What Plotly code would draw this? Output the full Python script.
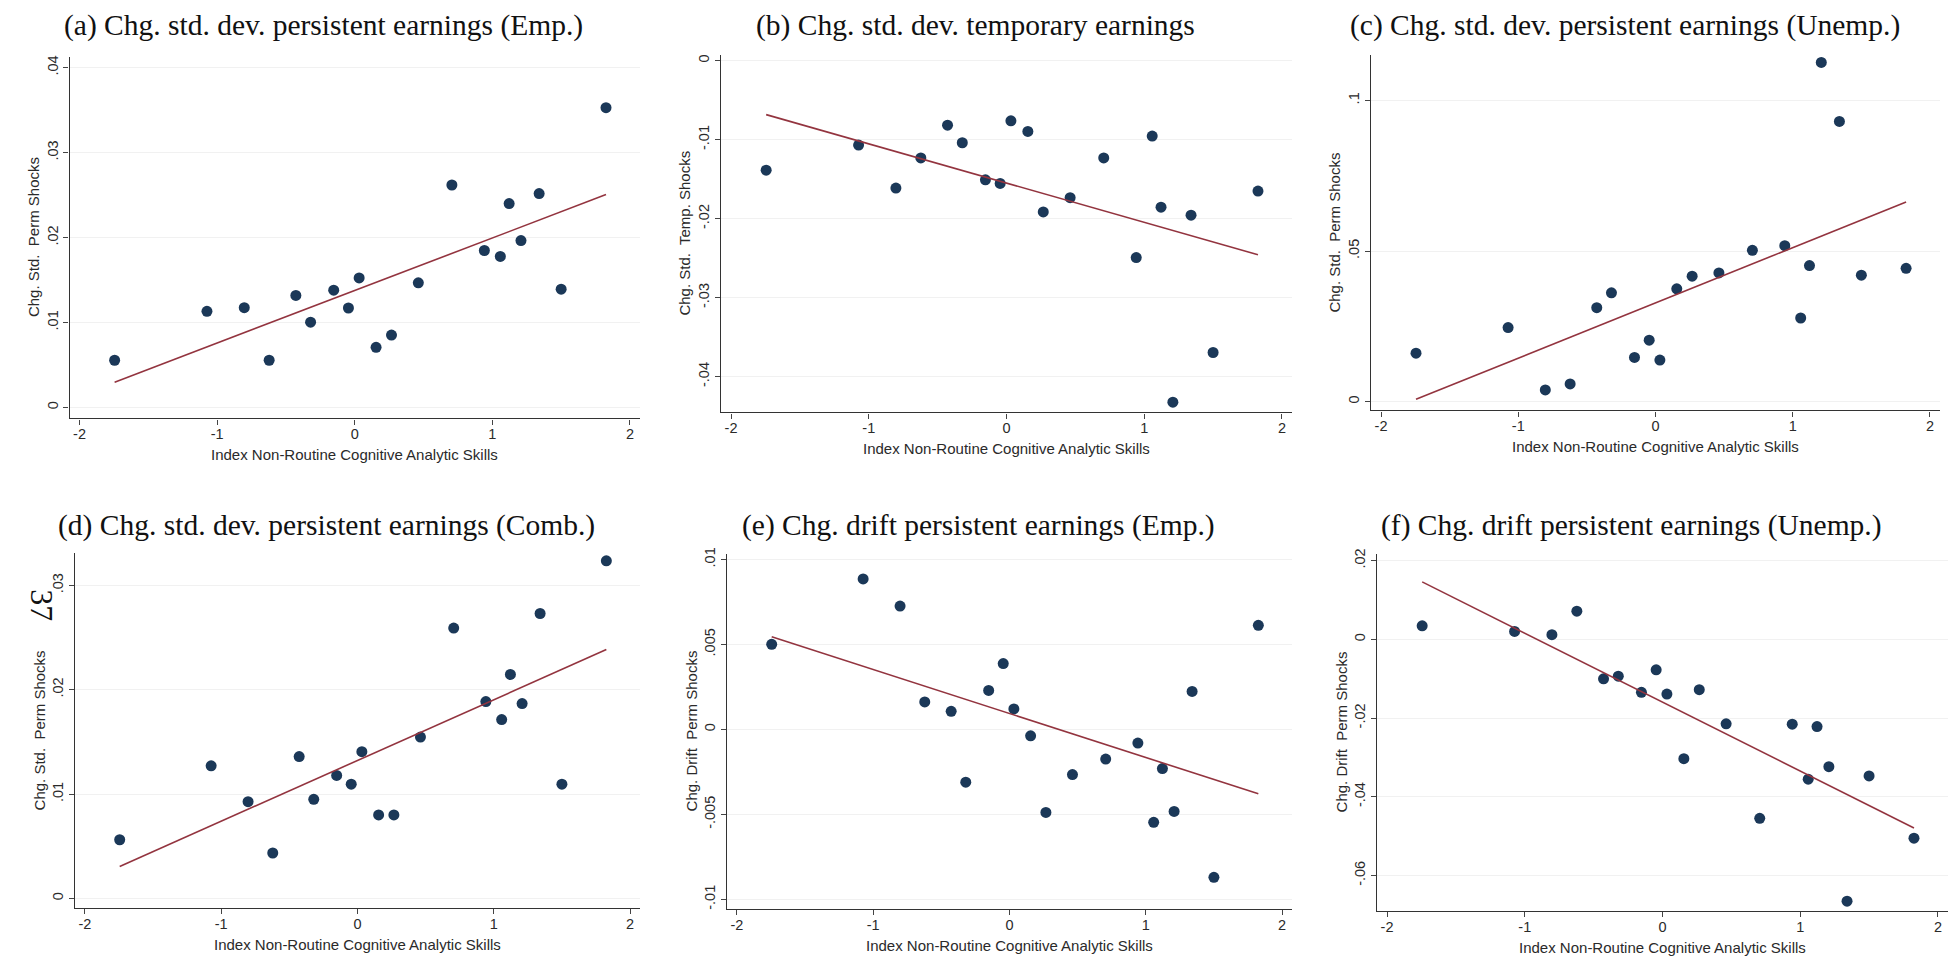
import numpy as np
import plotly.graph_objects as go

W, H = 1958, 957
OFF = 8                      # the page body margin of the browser
FW, FH = W - OFF, H - OFF

# ---------------- data ----------------
skill_index = [-1.745, -1.074, -0.803, -0.622, -0.428, -0.321, -0.153, -0.046, 0.032, 0.155,
               0.267, 0.462, 0.706, 0.942, 1.058, 1.122, 1.208, 1.340, 1.500, 1.826]

std_perm_emp = [0.00556, 0.01132, 0.01175, 0.00556, 0.01319, 0.01004, 0.01381, 0.01171, 0.01525, 0.00708,
                0.00852, 0.01467, 0.02619, 0.01848, 0.01778, 0.02401, 0.01965, 0.02518, 0.01393, 0.03529]

std_temp = [-0.01386, -0.01068, -0.01613, -0.01231, -0.00817, -0.01039, -0.01508, -0.01554, -0.00762, -0.00896,
            -0.01914, -0.01734, -0.01231, -0.02492, -0.00955, -0.01855, -0.04323, -0.01956, -0.03694, -0.01650]

std_perm_unemp = [0.01608, 0.02456, 0.00385, 0.00584, 0.03117, 0.03612, 0.01465, 0.02037, 0.01377, 0.03744,
                  0.04163, 0.04273, 0.05022, 0.05176, 0.02775, 0.04515, 0.11266, 0.09306, 0.04196, 0.04427]

std_perm_comb = [0.00562, 0.01270, 0.00927, 0.00435, 0.01359, 0.00949, 0.01178, 0.01095, 0.01406, 0.00800,
                 0.00800, 0.01546, 0.02590, 0.01886, 0.01714, 0.02146, 0.01867, 0.02730, 0.01095, 0.03235]

drift_perm_emp = [0.00501, 0.00886, 0.00726, 0.00162, 0.00107, -0.00310, 0.00230, 0.00388, 0.00121, -0.00037,
                  -0.00488, -0.00265, -0.00174, -0.00080, -0.00546, -0.00230, -0.00482, 0.00224, -0.00870, 0.00613]

drift_perm_unemp = [0.00345, 0.00202, 0.00118, 0.00716, -0.01002, -0.00935, -0.01347, -0.00775, -0.01389, -0.03032,
                    -0.01280, -0.02147, -0.04547, -0.02156, -0.03554, -0.02215, -0.03234, -0.06653, -0.03469, -0.05053]

x_ticks = [-2, -1, 0, 1, 2]
x_tick_labels = ["-2", "-1", "0", "1", "2"]

titles = ["(a) Chg. std. dev. persistent earnings (Emp.)",
          "(b) Chg. std. dev. temporary earnings",
          "(c) Chg. std. dev. persistent earnings (Unemp.)",
          "(d) Chg. std. dev. persistent earnings (Comb.)",
          "(e) Chg. drift persistent earnings (Emp.)",
          "(f) Chg. drift persistent earnings (Unemp.)"]
y_titles = ["Chg. Std.  Perm Shocks", "Chg. Std.  Temp. Shocks", "Chg. Std.  Perm Shocks",
            "Chg. Std.  Perm Shocks", "Chg. Drift  Perm Shocks", "Chg. Drift  Perm Shocks"]
x_title = "Index Non-Routine Cognitive Analytic Skills"

y_tick_vals = [[0, 0.01, 0.02, 0.03, 0.04],
               [0, -0.01, -0.02, -0.03, -0.04],
               [0, 0.05, 0.1],
               [0, 0.01, 0.02, 0.03],
               [-0.01, -0.005, 0, 0.005, 0.01],
               [-0.06, -0.04, -0.02, 0, 0.02]]
y_tick_labels = [["0", ".01", ".02", ".03", ".04"],
                 ["0", "-.01", "-.02", "-.03", "-.04"],
                 ["0", ".05", ".1"],
                 ["0", ".01", ".02", ".03"],
                 ["-.01", "-.005", "0", ".005", ".01"],
                 ["-.06", "-.04", "-.02", "0", ".02"]]
series = [std_perm_emp, std_temp, std_perm_unemp, std_perm_comb, drift_perm_emp, drift_perm_unemp]

# ---------------- layout (screen-pixel boxes of the plot regions) ----------------
boxes = [(69.5, 640, 51, 415), (721, 1292, 49, 409), (1371, 1940, 49, 407),
         (75, 640, 550, 908), (727, 1292, 551, 909), (1377, 1948, 551, 911)]
y_ranges = [(-0.00129, 0.04129), (-0.04453, 0.00075), (-0.00297, 0.1152),
            (-0.00095, 0.03314), (-0.01058, 0.01035), (-0.0691, 0.0218)]
x_range = (-2.073, 2.073)
title_y = [20, 20, 20, 523, 523, 523]


def px(x):
    return (x - OFF) / FW


def py(y):
    return 1 - (y - OFF) / FH


MARKER = "#1b3858"
LINE = "#93343f"
TXT = "#2a2a2a"
SANS = "Liberation Sans, Arial, sans-serif"
SERIF = "Liberation Serif, Times New Roman, serif"

fig = go.Figure()
annotations = []

for i in range(6):
    xl, xr, yt, yb = boxes[i]
    xa = "x" if i == 0 else f"x{i+1}"
    ya = "y" if i == 0 else f"y{i+1}"
    yvals = series[i]

    slope, intercept = np.polyfit(skill_index, yvals, 1)
    fx = [min(skill_index), max(skill_index)]
    fy = [slope * v + intercept for v in fx]

    fig.add_trace(go.Scatter(x=skill_index, y=yvals, mode="markers", xaxis=xa, yaxis=ya,
                             marker=dict(color=MARKER, size=11, line=dict(width=0)),
                             showlegend=False, hoverinfo="x+y"))
    fig.add_trace(go.Scatter(x=fx, y=fy, mode="lines", xaxis=xa, yaxis=ya,
                             line=dict(color=LINE, width=1.6), showlegend=False))

    xkey = "xaxis" if i == 0 else f"xaxis{i+1}"
    ykey = "yaxis" if i == 0 else f"yaxis{i+1}"
    fig.layout[xkey] = dict(domain=[px(xl), px(xr)], range=list(x_range), anchor=ya,
                            tickmode="array", tickvals=x_ticks, ticktext=x_tick_labels,
                            ticks="outside", ticklen=5, tickcolor="#444", tickwidth=1,
                            ticklabelstandoff=-3,
                            showline=True, linecolor="#333", linewidth=1.2,
                            showgrid=False, zeroline=False,
                            tickfont=dict(family=SANS, size=14.5, color=TXT))
    fig.layout[ykey] = dict(domain=[py(yb), py(yt)], range=list(y_ranges[i]), anchor=xa,
                            tickmode="array", tickvals=y_tick_vals[i], ticktext=y_tick_labels[i],
                            ticks="outside", ticklen=5, tickcolor="#444", tickwidth=1,
                            tickangle=-90,
                            showline=True, linecolor="#333", linewidth=1.2,
                            showgrid=True, gridcolor="#f1f1f1", gridwidth=1, zeroline=False,
                            tickfont=dict(family=SANS, size=14.5, color=TXT))

    cx = (xl + xr) / 2
    annotations.append(dict(text=titles[i], x=px(cx - 31), y=py(title_y[i]),
                            xref="paper", yref="paper", xanchor="center", yanchor="middle",
                            showarrow=False, font=dict(family=SERIF, size=29.5, color="#111")))
    annotations.append(dict(text=x_title, x=px(cx), y=py(yb + 36.5),
                            xref="paper", yref="paper", xanchor="center", yanchor="middle",
                            showarrow=False, font=dict(family=SANS, size=15, color=TXT)))
    annotations.append(dict(text=y_titles[i], x=px(xl - 36), y=py((yt + yb) / 2),
                            xref="paper", yref="paper", xanchor="center", yanchor="middle",
                            textangle=-90, showarrow=False,
                            font=dict(family=SANS, size=15, color=TXT)))

# page number of the scanned (landscape) page
annotations.append(dict(text="37", x=px(42), y=py(603), xref="paper", yref="paper",
                        xanchor="center", yanchor="middle", textangle=90, showarrow=False,
                        font=dict(family=SERIF, size=32, color="#111")))

fig.update_layout(width=FW, height=FH, margin=dict(l=0, r=0, t=0, b=0),
                  paper_bgcolor="white", plot_bgcolor="white",
                  annotations=annotations, showlegend=False)

fig.write_html("out.html")
